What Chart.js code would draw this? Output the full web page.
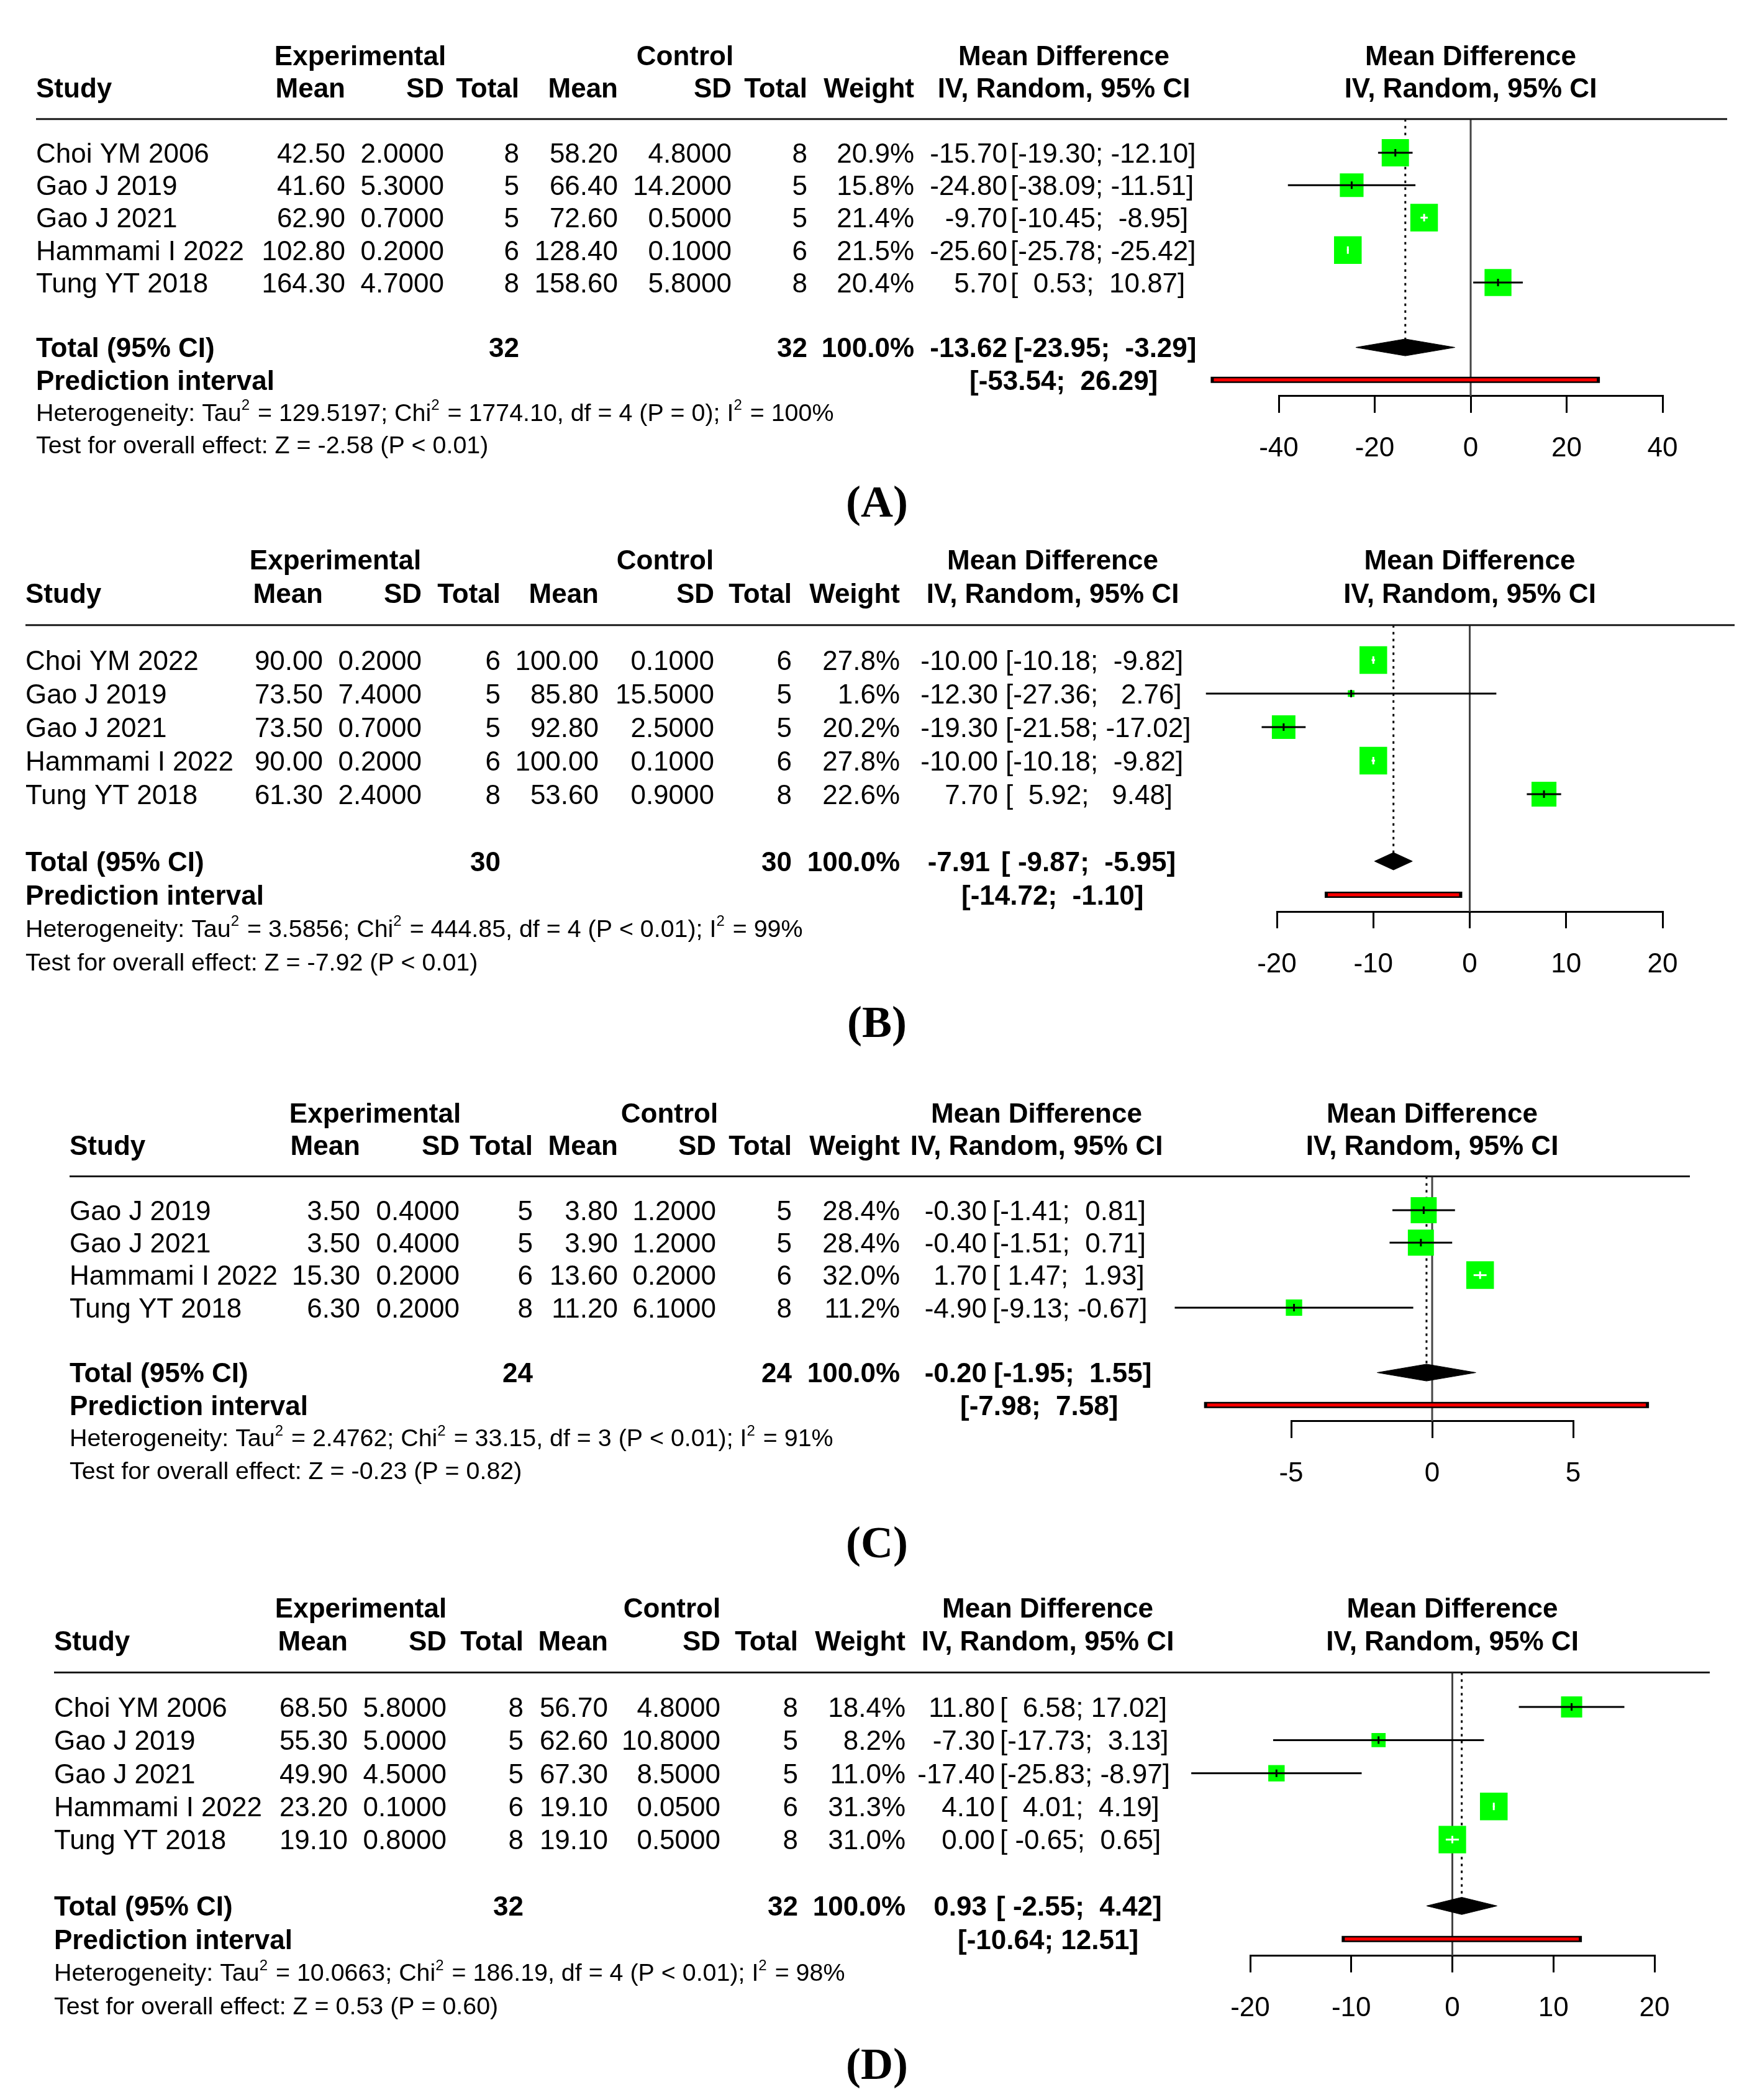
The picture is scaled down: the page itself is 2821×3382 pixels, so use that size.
<!DOCTYPE html>
<html>
<head>
<meta charset="utf-8">
<title>Forest plots</title>
<script src="https://cdn.jsdelivr.net/npm/chart.js@4.4.1/dist/chart.umd.min.js"></script>
<style>
  html, body { margin: 0; padding: 0; background: #fff; }
  #page { position: relative; width: 2821px; height: 3382px; overflow: hidden; background: #fff; }
  #page canvas { position: absolute; left: 0; }
</style>
</head>
<body>
<div id="page">
  <canvas id="panelA"></canvas>
  <canvas id="panelB"></canvas>
  <canvas id="panelC"></canvas>
  <canvas id="panelD"></canvas>
</div>
<script>
// ---------- data: panel A ----------
const studiesA = ['Choi YM 2006', 'Gao J 2019', 'Gao J 2021', 'Hammami I 2022', 'Tung YT 2018'];
const expMeanA = [42.50, 41.60, 62.90, 102.80, 164.30];
const expSdA = [2.0, 5.3, 0.7, 0.2, 4.7];
const expNA = [8, 5, 5, 6, 8];
const ctlMeanA = [58.20, 66.40, 72.60, 128.40, 158.60];
const ctlSdA = [4.8, 14.2, 0.5, 0.1, 5.8];
const ctlNA = [8, 5, 5, 6, 8];
const weightA = [20.9, 15.8, 21.4, 21.5, 20.4];
const mdA = [-15.70, -24.80, -9.70, -25.60, 5.70];
const loA = [-19.30, -38.09, -10.45, -25.78, 0.53];
const hiA = [-12.10, -11.51, -8.95, -25.42, 10.87];
const ticksA = [-40, -20, 0, 20, 40];

// ---------- data: panel B ----------
const studiesB = ['Choi YM 2022', 'Gao J 2019', 'Gao J 2021', 'Hammami I 2022', 'Tung YT 2018'];
const expMeanB = [90.00, 73.50, 73.50, 90.00, 61.30];
const expSdB = [0.2, 7.4, 0.7, 0.2, 2.4];
const expNB = [6, 5, 5, 6, 8];
const ctlMeanB = [100.00, 85.80, 92.80, 100.00, 53.60];
const ctlSdB = [0.1, 15.5, 2.5, 0.1, 0.9];
const ctlNB = [6, 5, 5, 6, 8];
const weightB = [27.8, 1.6, 20.2, 27.8, 22.6];
const mdB = [-10.00, -12.30, -19.30, -10.00, 7.70];
const loB = [-10.18, -27.36, -21.58, -10.18, 5.92];
const hiB = [-9.82, 2.76, -17.02, -9.82, 9.48];
const ticksB = [-20, -10, 0, 10, 20];

// ---------- data: panel C ----------
const studiesC = ['Gao J 2019', 'Gao J 2021', 'Hammami I 2022', 'Tung YT 2018'];
const expMeanC = [3.50, 3.50, 15.30, 6.30];
const expSdC = [0.4, 0.4, 0.2, 0.2];
const expNC = [5, 5, 6, 8];
const ctlMeanC = [3.80, 3.90, 13.60, 11.20];
const ctlSdC = [1.2, 1.2, 0.2, 6.1];
const ctlNC = [5, 5, 6, 8];
const weightC = [28.4, 28.4, 32.0, 11.2];
const mdC = [-0.30, -0.40, 1.70, -4.90];
const loC = [-1.41, -1.51, 1.47, -9.13];
const hiC = [0.81, 0.71, 1.93, -0.67];
const ticksC = [-5, 0, 5];

// ---------- data: panel D ----------
const studiesD = ['Choi YM 2006', 'Gao J 2019', 'Gao J 2021', 'Hammami I 2022', 'Tung YT 2018'];
const expMeanD = [68.50, 55.30, 49.90, 23.20, 19.10];
const expSdD = [5.8, 5.0, 4.5, 0.1, 0.8];
const expND = [8, 5, 5, 6, 8];
const ctlMeanD = [56.70, 62.60, 67.30, 19.10, 19.10];
const ctlSdD = [4.8, 10.8, 8.5, 0.05, 0.5];
const ctlND = [8, 5, 5, 6, 8];
const weightD = [18.4, 8.2, 11.0, 31.3, 31.0];
const mdD = [11.80, -7.30, -17.40, 4.10, 0.00];
const loD = [6.58, -17.73, -25.83, 4.01, -0.65];
const hiD = [17.02, 3.13, -8.97, 4.19, 0.65];
const ticksD = [-20, -10, 0, 10, 20];

// ---------- pooled results, one entry per panel (A, B, C, D) ----------
const totalNExp = [32, 30, 24, 32];
const totalNCtl = [32, 30, 24, 32];
const totalMd = [-13.62, -7.91, -0.20, 0.93];
const totalLo = [-23.95, -9.87, -1.95, -2.55];
const totalHi = [-3.29, -5.95, 1.55, 4.42];
const piLo = [-53.54, -14.72, -7.98, -10.64];
const piHi = [26.29, -1.10, 7.58, 12.51];
const hetTau2 = ['129.5197', '3.5856', '2.4762', '10.0663'];
const hetChi2 = ['1774.10', '444.85', '33.15', '186.19'];
const hetDf = [4, 4, 3, 4];
const hetP = ['P = 0', 'P < 0.01', 'P < 0.01', 'P < 0.01'];
const hetI2 = ['100%', '99%', '91%', '98%'];
const testZ = ['-2.58', '-7.92', '-0.23', '0.53'];
const testP = ['P < 0.01', 'P < 0.01', 'P = 0.82', 'P = 0.60'];

// ---------- layout (pixels, page coordinates) ----------
const W = 2821;
const SANS = '"Liberation Sans", Arial, Helvetica, sans-serif';
const SERIF = '"Liberation Serif", "Times New Roman", serif';
const GREEN = '#00ff00';
const FONT = 44, SMALL = 39.4;
const ROW_TOP = -2.5;      // row value at top of plot area
const RULE_ROW = -0.04;    // horizontal rule under the header
const DIAMOND_H = 0.26;    // half height of the pooled diamond, in rows
const BOX_MAX = 44.5;      // side of the largest study square
const LABEL_X = 1412;

const layoutA = { top: 0, height: 860, firstRow: 246, rowPx: 52.25, xMin: 2059, xMax: 2677, labelY: 814,
  cols: { study: 58, expMean: 556, expSd: 715, expN: 836, ctlMean: 995, ctlSd: 1178, ctlN: 1300, weight: 1472,
          md: 1622, ci: 1627, mdT: 1622, ciT: 1633, ciP: 1561, expHead: 580, ctlHead: 1103, mdHead: 1713, ruleR: 2781 } };
const layoutB = { top: 860, height: 840, firstRow: 1063, rowPx: 54.0, xMin: 2056, xMax: 2677, labelY: 1652,
  cols: { study: 41, expMean: 520, expSd: 679, expN: 806, ctlMean: 964, ctlSd: 1150, ctlN: 1275, weight: 1449,
          md: 1607, ci: 1619, mdT: 1594, ciT: 1612, ciP: 1548, expHead: 540, ctlHead: 1071, mdHead: 1695, ruleR: 2793 } };
const layoutC = { top: 1700, height: 840, firstRow: 1949, rowPx: 52.3, xMin: 2079, xMax: 2533, labelY: 2490,
  cols: { study: 112, expMean: 580, expSd: 740, expN: 858, ctlMean: 995, ctlSd: 1153, ctlN: 1275, weight: 1449,
          md: 1589, ci: 1598, mdT: 1589, ciT: 1600, ciP: 1546, expHead: 604, ctlHead: 1078, mdHead: 1669, ruleR: 2721 } };
const layoutD = { top: 2540, height: 842, firstRow: 2749, rowPx: 53.4, xMin: 2013, xMax: 2664, labelY: 3330,
  cols: { study: 87, expMean: 560, expSd: 719, expN: 843, ctlMean: 979, ctlSd: 1160, ctlN: 1285, weight: 1458,
          md: 1602, ci: 1610, mdT: 1589, ciT: 1604, ciP: 1542, expHead: 581, ctlHead: 1082, mdHead: 1687, ruleR: 2753 } };

const panels = [
  { key: 'A', studies: studiesA, expMean: expMeanA, expSd: expSdA, expN: expNA, ctlMean: ctlMeanA, ctlSd: ctlSdA, ctlN: ctlNA,
    weight: weightA, md: mdA, lo: loA, hi: hiA, ticks: ticksA, layout: layoutA },
  { key: 'B', studies: studiesB, expMean: expMeanB, expSd: expSdB, expN: expNB, ctlMean: ctlMeanB, ctlSd: ctlSdB, ctlN: ctlNB,
    weight: weightB, md: mdB, lo: loB, hi: hiB, ticks: ticksB, layout: layoutB },
  { key: 'C', studies: studiesC, expMean: expMeanC, expSd: expSdC, expN: expNC, ctlMean: ctlMeanC, ctlSd: ctlSdC, ctlN: ctlNC,
    weight: weightC, md: mdC, lo: loC, hi: hiC, ticks: ticksC, layout: layoutC },
  { key: 'D', studies: studiesD, expMean: expMeanD, expSd: expSdD, expN: expND, ctlMean: ctlMeanD, ctlSd: ctlSdD, ctlN: ctlND,
    weight: weightD, md: mdD, lo: loD, hi: hiD, ticks: ticksD, layout: layoutD }
];

// ---------- helpers ----------
const f2 = v => v.toFixed(2);
const padL = (s, n) => ' '.repeat(Math.max(0, n - s.length)) + s;

function drawText(ctx, s, x, y, align, bold, size) {
  ctx.font = (bold ? 'bold ' : '') + size + 'px ' + SANS;
  ctx.textAlign = align;
  ctx.textBaseline = 'alphabetic';
  ctx.fillText(s, x, y + 0.36 * size);
}

// text with superscripts: parts = [[text, isSup], ...]
function drawRich(ctx, parts, x, y, size) {
  let cx = x;
  ctx.textAlign = 'left';
  ctx.textBaseline = 'alphabetic';
  parts.forEach(([t, sup]) => {
    const s = sup ? Math.round(size * 0.62) : size;
    ctx.font = s + 'px ' + SANS;
    ctx.fillText(t, cx, y + 0.36 * size - (sup ? size * 0.45 : 0));
    cx += ctx.measureText(t).width + (sup ? 2 : 0);
  });
}

function tablePlugin(p, i) {
  return {
    id: 'forestTable' + p.key,
    afterDraw(chart) {
      const ctx = chart.ctx;
      const ys = chart.scales.y, xs = chart.scales.x;
      const C = p.layout.cols;
      const k = p.studies.length;
      const row = r => ys.getPixelForValue(r);
      const zeroX = xs.getPixelForValue(0);

      // widths used by R-style padding of the CI column
      const loW = Math.max(...p.lo.map(f2).map(s => s.length), f2(totalLo[i]).length, f2(piLo[i]).length);
      const hiW = Math.max(...p.hi.map(f2).map(s => s.length), f2(totalHi[i]).length, f2(piHi[i]).length);
      const ci = (lo, hi) => '[' + padL(f2(lo), loW) + '; ' + padL(f2(hi), hiW) + ']';

      ctx.save();
      ctx.fillStyle = '#000';

      // header
      drawText(ctx, 'Experimental', C.expHead, row(-2), 'center', true, FONT);
      drawText(ctx, 'Control', C.ctlHead, row(-2), 'center', true, FONT);
      drawText(ctx, 'Mean Difference', C.mdHead, row(-2), 'center', true, FONT);
      drawText(ctx, 'Mean Difference', zeroX, row(-2), 'center', true, FONT);
      drawText(ctx, 'Study', C.study, row(-1), 'left', true, FONT);
      drawText(ctx, 'Mean', C.expMean, row(-1), 'right', true, FONT);
      drawText(ctx, 'SD', C.expSd, row(-1), 'right', true, FONT);
      drawText(ctx, 'Total', C.expN, row(-1), 'right', true, FONT);
      drawText(ctx, 'Mean', C.ctlMean, row(-1), 'right', true, FONT);
      drawText(ctx, 'SD', C.ctlSd, row(-1), 'right', true, FONT);
      drawText(ctx, 'Total', C.ctlN, row(-1), 'right', true, FONT);
      drawText(ctx, 'Weight', C.weight, row(-1), 'right', true, FONT);
      drawText(ctx, 'IV, Random, 95% CI', C.mdHead, row(-1), 'center', true, FONT);
      drawText(ctx, 'IV, Random, 95% CI', zeroX, row(-1), 'center', true, FONT);

      // rule
      ctx.strokeStyle = '#1a1a1a';
      ctx.lineWidth = 3;
      ctx.beginPath();
      ctx.moveTo(C.study, row(RULE_ROW));
      ctx.lineTo(C.ruleR, row(RULE_ROW));
      ctx.stroke();

      // study rows
      p.studies.forEach((s, j) => {
        const y = row(j + 1);
        drawText(ctx, s, C.study, y, 'left', false, FONT);
        drawText(ctx, f2(p.expMean[j]), C.expMean, y, 'right', false, FONT);
        drawText(ctx, p.expSd[j].toFixed(4), C.expSd, y, 'right', false, FONT);
        drawText(ctx, String(p.expN[j]), C.expN, y, 'right', false, FONT);
        drawText(ctx, f2(p.ctlMean[j]), C.ctlMean, y, 'right', false, FONT);
        drawText(ctx, p.ctlSd[j].toFixed(4), C.ctlSd, y, 'right', false, FONT);
        drawText(ctx, String(p.ctlN[j]), C.ctlN, y, 'right', false, FONT);
        drawText(ctx, p.weight[j].toFixed(1) + '%', C.weight, y, 'right', false, FONT);
        drawText(ctx, f2(p.md[j]), C.md, y, 'right', false, FONT);
        drawText(ctx, ci(p.lo[j], p.hi[j]), C.ci, y, 'left', false, FONT);
      });

      // pooled rows
      const yt = row(k + 2);
      drawText(ctx, 'Total (95% CI)', C.study, yt, 'left', true, FONT);
      drawText(ctx, String(totalNExp[i]), C.expN, yt, 'right', true, FONT);
      drawText(ctx, String(totalNCtl[i]), C.ctlN, yt, 'right', true, FONT);
      drawText(ctx, '100.0%', C.weight, yt, 'right', true, FONT);
      drawText(ctx, f2(totalMd[i]), C.mdT, yt, 'right', true, FONT);
      drawText(ctx, ci(totalLo[i], totalHi[i]), C.ciT, yt, 'left', true, FONT);
      const yp = row(k + 3);
      drawText(ctx, 'Prediction interval', C.study, yp, 'left', true, FONT);
      drawText(ctx, ci(piLo[i], piHi[i]), C.ciP, yp, 'left', true, FONT);

      // heterogeneity and overall effect
      drawRich(ctx, [
        ['Heterogeneity: Tau', false], ['2', true], [' = ' + hetTau2[i] + '; Chi', false], ['2', true],
        [' = ' + hetChi2[i] + ', df = ' + hetDf[i] + ' (' + hetP[i] + '); I', false], ['2', true], [' = ' + hetI2[i], false]
      ], C.study, row(k + 4), SMALL);
      drawRich(ctx, [['Test for overall effect: Z = ' + testZ[i] + ' (' + testP[i] + ')', false]], C.study, row(k + 5), SMALL);

      // panel label
      ctx.font = 'bold 72px ' + SERIF;
      ctx.textAlign = 'center';
      ctx.textBaseline = 'alphabetic';
      ctx.fillText('(' + p.key + ')', LABEL_X, p.layout.labelY - p.layout.top + 18);
      ctx.restore();
    }
  };
}

function makePanel(p, i) {
  const L = p.layout;
  const k = p.studies.length;
  const canvas = document.getElementById('panel' + p.key);
  canvas.width = W;
  canvas.height = L.height;
  canvas.style.top = L.top + 'px';

  const firstRow = L.firstRow - L.top;
  const topPad = firstRow - (1 - ROW_TOP) * L.rowPx;
  const axisRow = k + 3.5;
  const axisY = firstRow + (axisRow - 1) * L.rowPx;
  const tMin = p.ticks[0], tMax = p.ticks[p.ticks.length - 1];
  const pxPerUnit = (L.xMax - L.xMin) / (tMax - tMin);

  const wMax = Math.max(...p.weight);
  const sides = p.weight.map(w => BOX_MAX * Math.sqrt(w / wMax));
  const inside = p.lo.map((lo, j) => (p.hi[j] - lo) * pxPerUnit < sides[j]);
  const totalRow = k + 2, piRow = k + 3;

  const datasets = [];
  // zero reference line
  datasets.push({ type: 'line', data: [{ x: 0, y: RULE_ROW }, { x: 0, y: axisRow }],
    borderColor: '#444', borderWidth: 3, pointRadius: 0, order: 20, clip: false });
  // pooled estimate (dotted)
  datasets.push({ type: 'line', data: [{ x: totalMd[i], y: RULE_ROW }, { x: totalMd[i], y: totalRow - DIAMOND_H }],
    borderColor: '#000', borderWidth: 3, borderDash: [4, 7], pointRadius: 0, order: 19, clip: false });
  // study squares
  datasets.push({ type: 'scatter', data: p.md.map((m, j) => ({ x: m, y: j + 1 })),
    pointStyle: 'rect', pointRadius: sides.map(s => s / Math.SQRT2), backgroundColor: GREEN,
    borderWidth: 0, order: 10, clip: false });
  // confidence intervals
  p.lo.forEach((lo, j) => {
    datasets.push({ type: 'line', data: [{ x: lo, y: j + 1 }, { x: p.hi[j], y: j + 1 }],
      borderColor: inside[j] ? '#fff' : '#000', borderWidth: 3, pointRadius: 0, order: 5, clip: false });
  });
  // estimate ticks
  datasets.push({ type: 'scatter', data: p.md.map((m, j) => ({ x: m, y: j + 1 })),
    pointStyle: 'line', rotation: 90, pointRadius: 6, borderWidth: 3,
    borderColor: inside.map(v => v ? '#fff' : '#000'), order: 4, clip: false });
  // pooled diamond
  datasets.push({ type: 'line', data: [
      { x: totalLo[i], y: totalRow }, { x: totalMd[i], y: totalRow - DIAMOND_H },
      { x: totalHi[i], y: totalRow }, { x: totalMd[i], y: totalRow + DIAMOND_H }, { x: totalLo[i], y: totalRow }],
    borderColor: '#000', borderWidth: 1, backgroundColor: '#000', fill: 'shape', tension: 0,
    pointRadius: 0, order: 3, clip: false });
  // prediction interval (black outline + red bar)
  datasets.push({ type: 'line', data: [{ x: piLo[i], y: piRow }, { x: piHi[i], y: piRow }],
    borderColor: '#000', borderWidth: 10, borderCapStyle: 'square', pointRadius: 0, order: 2, clip: false });
  datasets.push({ type: 'line', data: [{ x: piLo[i], y: piRow }, { x: piHi[i], y: piRow }],
    borderColor: '#ff0000', borderWidth: 5, borderCapStyle: 'butt', pointRadius: 0, order: 1, clip: false });

  return new Chart(canvas, {
    type: 'scatter',
    data: { datasets },
    options: {
      responsive: false,
      animation: false,
      devicePixelRatio: 1,
      events: [],
      layout: { autoPadding: false, padding: { left: L.xMin, right: W - L.xMax, top: topPad, bottom: 0 } },
      plugins: { legend: { display: false }, tooltip: { enabled: false } },
      scales: {
        x: {
          type: 'linear', min: tMin, max: tMax,
          afterBuildTicks: s => { s.ticks = p.ticks.map(v => ({ value: v })); },
          afterFit: s => { s.height = L.height - axisY; },
          grid: { drawOnChartArea: false, drawTicks: true, tickLength: 27, lineWidth: 3, color: '#000' },
          border: { display: true, color: '#000', width: 3 },
          ticks: { color: '#000', padding: 32, autoSkip: false, maxRotation: 0,
                   font: { family: SANS, size: FONT }, callback: v => String(v) }
        },
        y: { type: 'linear', display: false, reverse: true, min: ROW_TOP, max: axisRow }
      }
    },
    plugins: [tablePlugin(p, i)]
  });
}

panels.forEach((p, i) => makePanel(p, i));
</script>
</body>
</html>
